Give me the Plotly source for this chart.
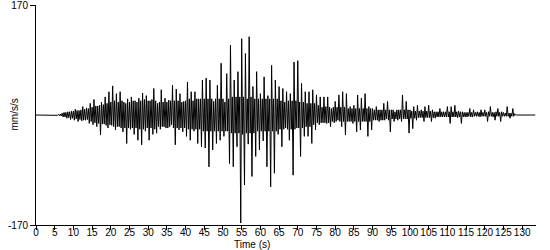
import numpy as np
import plotly.graph_objects as go

# The trace is digitised as (upper, lower) pairs: for every 0.5 s bin the
# highest value (at the bin start) and the lowest value (0.25 s later),
# read off the picture in mm/s/s.
bin_s = 0.5
first_bin_s = 5.0
quiet_before = [(0.0, 0.0)]      # flat trace from the origin
quiet_after = [(133.5, 0.0)]     # flat trace to the end of the record

upper_onset = [0, 0.5, 1, 1.5, 3, 4, 4, 5, 5, 6,                 # 5 - 9.5 s
               6, 9, 7, 7, 8, 13, 9, 11, 10, 18,                 # 10 - 14.5 s
               12, 24, 14, 14, 15, 20, 16, 28, 18, 36]           # 15 - 19.5 s
lower_onset = [0, -0.5, -1, -1.5, -3, -3, -5, -4, -7, -5,
               -8, -6, -10, -7, -9, -8, -8, -7, -13, -10,
               -15, -12, -18, -13, -31, -14, -14, -16, -20, -15]

upper_strong = [20, 45, 22, 33, 20, 36, 22, 20, 18, 25,          # 20 - 24.5 s
                20, 28, 22, 22, 20, 26, 22, 34, 24, 30,          # 25 - 29.5 s
                22, 22, 24, 41, 22, 18, 20, 39, 20, 26,          # 30 - 34.5 s
                20, 23, 22, 46, 22, 40, 22, 33, 20, 21,          # 35 - 39.5 s
                22, 51, 25, 36, 22, 36, 25, 25, 25, 54,          # 40 - 44.5 s
                25, 57, 25, 54, 25, 21, 25, 46, 25, 80,          # 45 - 49.5 s
                25, 20, 64, 25, 108, 28, 54, 28, 67, 28,         # 50 - 54.5 s
                118, 28, 95, 25, 121, 28, 44, 25, 67, 25,        # 55 - 59.5 s
                33, 25, 59, 25, 30, 25, 77, 25, 54, 25,          # 60 - 64.5 s
                44, 22, 41, 20, 36, 22, 33, 22, 82, 22]          # 65 - 69.5 s
lower_strong = [-16, -18, -23, -18, -18, -20, -26, -20, -44, -20,
                -22, -20, -30, -20, -39, -22, -46, -22, -25, -20,
                -39, -20, -30, -22, -28, -18, -22, -18, -18, -20,
                -20, -18, -15, -20, -46, -20, -23, -20, -26, -20,
                -33, -22, -39, -22, -25, -22, -44, -22, -49, -25,
                -51, -25, -80, -25, -54, -25, -44, -25, -39, -25,
                -33, -25, -25, -75, -28, -80, -28, -49, -28, -167,
                -30, -108, -28, -45, -28, -95, -28, -64, -25, -54,
                -25, -40, -25, -80, -25, -111, -25, -90, -25, -30,
                -22, -49, -22, -20, -22, -39, -22, -93, -22, -20]

upper_coda = [84, 20, 49, 20, 36, 18, 36, 18, 39, 18,            # 70 - 74.5 s
              31, 15, 28, 12, 28, 13, 28, 12, 10, 12,            # 75 - 79.5 s
              21, 12, 31, 12, 36, 12, 33, 10, 13, 10,            # 80 - 84.5 s
              15, 10, 31, 10, 26, 10, 33, 10, 13, 10,            # 85 - 89.5 s
              10, 8, 13, 8, 8, 8, 18, 8, 21, 8,                  # 90 - 94.5 s
              8, 8, 5, 8, 8, 8, 31, 8, 21, 8]                    # 95 - 99.5 s
lower_coda = [-20, -64, -20, -33, -18, -33, -18, -44, -15, -23,
              -12, -15, -12, -12, -12, -13, -12, -18, -10, -12,
              -10, -8, -10, -18, -10, -31, -10, -10, -10, -13,
              -10, -26, -10, -23, -10, -10, -10, -33, -10, -23,
              -8, -8, -8, -10, -8, -8, -8, -6, -8, -26,
              -6, -10, -6, -8, -6, -10, -6, -6, -6, -28]

upper_tail = [8, 6, 13, 6, 15, 6, 8, 6, 13, 6,                   # 100 - 104.5 s
              15, 6, 8, 5, 5, 5, 10, 5, 5, 5,                    # 105 - 109.5 s
              13, 5, 13, 5, 15, 5, 6, 5, 5, 4,                   # 110 - 114.5 s
              4, 4, 10, 4, 8, 4, 5, 4, 8, 4,                     # 115 - 119.5 s
              8, 4, 5, 13, 4, 4, 5, 10, 4, 5,                    # 120 - 124.5 s
              4, 3, 13, 3, 3, 10, 2, 0, 0, 0]                    # 125 - 129.5 s
lower_tail = [-5, -21, -5, -8, -4, -4, -4, -10, -4, -4,
              -4, -10, -4, -5, -3, -3, -3, -3, -3, -3,
              -3, -13, -3, -3, -3, -4, -3, -13, -3, -3,
              -3, -2, -3, -3, -2, -2, -2, -3, -2, -2,
              -2, -10, -2, -2, -3, -8, -2, -2, -10, -2,
              -2, -2, -2, -5, -2, -2, 0, 0, 0, 0]

x_ticks = list(range(0, 131, 5))
y_ticks = [-170, 170]
y_ticktext = ["-170", "170"]
x_title = "Time (s)"
y_title = "mm/s/s"

upper = upper_onset + upper_strong + upper_coda + upper_tail
lower = lower_onset + lower_strong + lower_coda + lower_tail

times, values = [], []
for t, v in quiet_before:
    times.append(t)
    values.append(v)
for k, (hi, lo) in enumerate(zip(upper, lower)):
    t0 = first_bin_s + k * bin_s
    times += [t0, t0 + bin_s / 2]
    values += [hi, lo]
for t, v in quiet_after:
    times.append(t)
    values.append(v)

fig = go.Figure(
    go.Scatter(x=times, y=values, mode="lines",
               line=dict(color="black", width=1), hoverinfo="skip")
)

L, R, T, B = 36, 14, 5, 25
W, H = 550, 250
pw, ph = W - L - R, H - T - B

fig.update_layout(
    width=W, height=H, autosize=False,
    margin=dict(l=L, r=R, t=T, b=B, pad=0, autoexpand=False),
    paper_bgcolor="white", plot_bgcolor="white",
    font=dict(family="Liberation Sans, Arial, sans-serif", size=10, color="black"),
    showlegend=False,
    xaxis=dict(range=[0, 133.7], tickmode="array", tickvals=x_ticks,
               ticktext=[str(v) for v in x_ticks], tickangle=0,
               ticks="outside", ticklen=4, tickwidth=1, tickcolor="black",
               ticklabelstandoff=-6, automargin=False,
               showline=True, linecolor="black", linewidth=1,
               showgrid=False, zeroline=False, tickfont=dict(size=10)),
    yaxis=dict(range=[-170, 170.05], tickmode="array", tickvals=y_ticks,
               ticktext=y_ticktext, ticklabeloverflow="allow", automargin=False,
               ticks="outside", ticklen=5, tickwidth=1, tickcolor="black",
               showline=True, linecolor="black", linewidth=1,
               showgrid=False, zeroline=False, tickfont=dict(size=10)),
    annotations=[
        dict(text=x_title, xref="paper", yref="paper",
             x=(252 - L) / pw, y=(H - B - 245) / ph,
             xanchor="center", yanchor="middle", showarrow=False,
             font=dict(size=10)),
        dict(text=y_title, xref="paper", yref="paper", textangle=-90,
             x=(13.5 - L) / pw, y=0.5,
             xanchor="center", yanchor="middle", showarrow=False,
             font=dict(size=10)),
    ],
)

fig.write_html("out.html", config={"displayModeBar": False})
